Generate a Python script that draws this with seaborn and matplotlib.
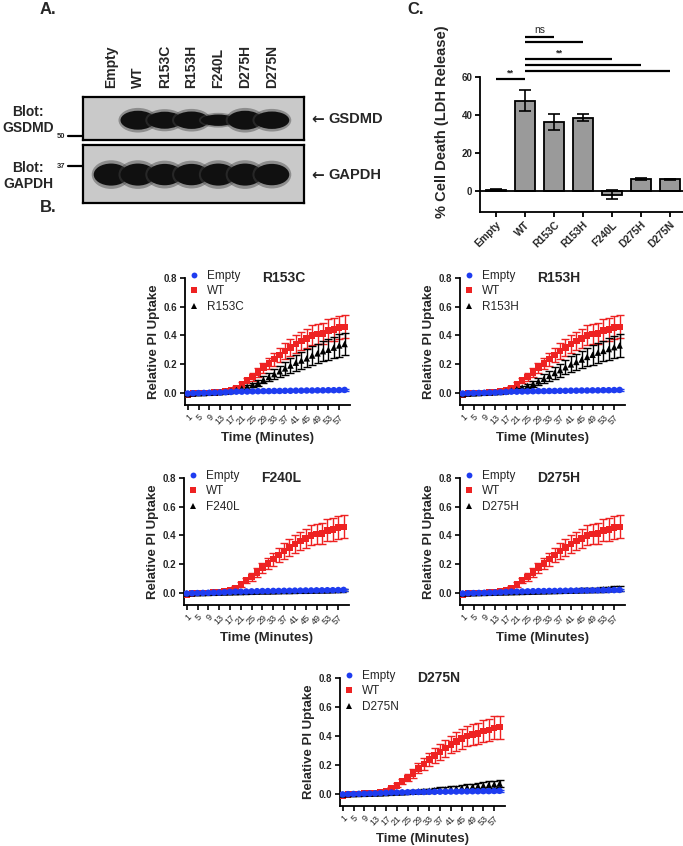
import numpy as np
import pandas as pd
import matplotlib
matplotlib.use("Agg")
import matplotlib.pyplot as plt
from matplotlib.patches import Ellipse
from matplotlib.lines import Line2D
import seaborn as sns

sns.set_theme(style="ticks")
plt.rcParams['font.family'] = ['Liberation Sans', 'DejaVu Sans']

# ---------------- data ----------------
lanes = ['Empty', 'WT', 'R153C', 'R153H', 'F240L', 'D275H', 'D275N']
gsdmd_band = [0.0, 1.0, 0.9, 0.92, 0.6, 1.0, 0.92]
gapdh_band = [1.0, 1.0, 0.97, 0.97, 1.0, 1.0, 0.97]

ldh_mean = [0.8, 47.5, 36.3, 38.5, -2.0, 6.4, 6.1]
ldh_err = [0.4, 5.5, 4.0, 2.0, 2.3, 0.6, 0.4]
sig_pairs = [(0, 1, '**', 59.0), (1, 2, 'ns', 81.0), (1, 3, '', 78.4),
             (1, 4, '**', 69.5), (1, 5, '', 66.3), (1, 6, '', 63.2)]

minutes = list(range(1, 60, 2))
minute_ticks = list(range(1, 58, 4))

empty_mean = [-0.005, -0.003, -0.002, -0.001, 0.0, 0.001, 0.002, 0.004, 0.006, 0.008,
              0.008, 0.009, 0.010, 0.011, 0.012, 0.012, 0.013, 0.013, 0.014, 0.014,
              0.015, 0.015, 0.016, 0.016, 0.017, 0.017, 0.018, 0.018, 0.019, 0.020]
empty_err = [0.003] * 10 + [0.004] * 10 + [0.005] * 10

wt_mean = [-0.012, -0.005, -0.003, -0.002, 0.0, 0.002, 0.005, 0.010, 0.020, 0.035,
           0.058, 0.085, 0.110, 0.140, 0.175, 0.205, 0.235, 0.265, 0.290, 0.315,
           0.340, 0.360, 0.380, 0.400, 0.410, 0.415, 0.435, 0.440, 0.455, 0.460]
wt_err = [0.005, 0.005, 0.005, 0.005, 0.005, 0.005, 0.005, 0.006, 0.008, 0.012,
          0.015, 0.020, 0.025, 0.030, 0.035, 0.040, 0.045, 0.050, 0.055, 0.058,
          0.062, 0.065, 0.068, 0.070, 0.072, 0.074, 0.076, 0.078, 0.080, 0.080]

r153c_mean = [-0.010, -0.005, -0.003, -0.002, 0.0, 0.002, 0.004, 0.007, 0.012, 0.020,
              0.030, 0.042, 0.055, 0.070, 0.090, 0.110, 0.130, 0.150, 0.170, 0.190,
              0.210, 0.225, 0.240, 0.260, 0.275, 0.290, 0.300, 0.315, 0.330, 0.340]
r153c_err = [0.004, 0.004, 0.004, 0.004, 0.004, 0.004, 0.004, 0.005, 0.006, 0.008,
             0.010, 0.013, 0.016, 0.020, 0.025, 0.030, 0.035, 0.040, 0.045, 0.050,
             0.055, 0.058, 0.062, 0.065, 0.068, 0.070, 0.072, 0.075, 0.078, 0.080]

r153h_mean = [-0.010, -0.006, -0.004, -0.002, 0.0, 0.002, 0.004, 0.006, 0.010, 0.016,
              0.025, 0.036, 0.048, 0.062, 0.080, 0.098, 0.118, 0.138, 0.158, 0.178,
              0.198, 0.215, 0.232, 0.250, 0.265, 0.280, 0.292, 0.305, 0.318, 0.330]
r153h_err = [0.004, 0.004, 0.004, 0.004, 0.004, 0.004, 0.004, 0.005, 0.006, 0.008,
             0.010, 0.013, 0.016, 0.020, 0.025, 0.030, 0.035, 0.040, 0.045, 0.050,
             0.055, 0.058, 0.062, 0.065, 0.068, 0.070, 0.072, 0.075, 0.078, 0.080]

f240l_mean = [-0.005, -0.004, -0.003, -0.002, -0.001, 0.0, 0.001, 0.002, 0.003, 0.004,
              0.005, 0.006, 0.007, 0.008, 0.009, 0.009, 0.010, 0.011, 0.012, 0.012,
              0.013, 0.014, 0.014, 0.015, 0.016, 0.017, 0.017, 0.018, 0.019, 0.020]
f240l_err = [0.003] * 10 + [0.005] * 10 + [0.008] * 10

d275h_mean = [-0.006, -0.004, -0.003, -0.002, -0.001, 0.0, 0.001, 0.002, 0.003, 0.004,
              0.005, 0.006, 0.007, 0.008, 0.009, 0.010, 0.011, 0.012, 0.013, 0.014,
              0.015, 0.016, 0.018, 0.019, 0.020, 0.022, 0.024, 0.026, 0.028, 0.030]
d275h_err = [0.003] * 10 + [0.006] * 10 + [0.012, 0.012, 0.013, 0.013, 0.014,
                                            0.014, 0.015, 0.016, 0.017, 0.018]

d275n_mean = [-0.006, -0.004, -0.003, -0.002, -0.001, 0.0, 0.001, 0.002, 0.004, 0.006,
              0.008, 0.010, 0.012, 0.014, 0.016, 0.018, 0.021, 0.024, 0.027, 0.030,
              0.033, 0.036, 0.040, 0.044, 0.048, 0.052, 0.056, 0.060, 0.065, 0.070]
d275n_err = [0.003] * 10 + [0.008, 0.009, 0.010, 0.011, 0.012, 0.013, 0.014, 0.015,
                            0.016, 0.017, 0.018, 0.019, 0.020, 0.021, 0.022, 0.023,
                            0.024, 0.025, 0.026, 0.027]

BLUE = '#1e3cf0'
RED = '#ee2222'
BLACK = '#000000'

W, H = 683, 846
fig = plt.figure(figsize=(W / 100, H / 100), dpi=100)


def add_ax(x0, y0, x1, y1):
    return fig.add_axes([x0 / W, 1 - y1 / H, (x1 - x0) / W, (y1 - y0) / H])


def fx(x):
    return x / W


def fy(y):
    return 1 - y / H


# ---------------- panel letters ----------------
fig.text(fx(40), fy(10), 'A.', fontsize=12, fontweight='bold', va='center')
fig.text(fx(407), fy(10), 'C.', fontsize=12, fontweight='bold', va='center')
fig.text(fx(40), fy(208), 'B.', fontsize=12, fontweight='bold', va='center')

# ---------------- panel A: blot ----------------
def blot(ax, intens, height, yc):
    ax.set_facecolor('#c9c9c9')
    for i, v in enumerate(intens):
        if v <= 0:
            continue
        ax.add_patch(Ellipse((i, yc), 1.45, height * v * 1.3, color='#444444', alpha=0.45, lw=0))
        ax.add_patch(Ellipse((i, yc), 1.3, height * v, color='#101010', lw=0))
    ax.set_xlim(-1.05, 7.2)
    ax.set_ylim(0, 1)
    ax.set_xticks([])
    ax.set_yticks([])
    for s in ax.spines.values():
        s.set_visible(True)
        s.set_linewidth(1.6)
        s.set_color('black')


axb1 = add_ax(83, 97, 304, 140)
blot(axb1, gsdmd_band, 0.44, 0.46)
axb2 = add_ax(83, 145, 304, 203)
blot(axb2, gapdh_band, 0.38, 0.49)
for i, name in enumerate(lanes):
    axb1.text(i, 1 + 9 / 43, name, rotation=90, ha='center', va='bottom',
              fontsize=10, fontweight='bold', transform=axb1.get_xaxis_transform())

fig.text(fx(28), fy(120), 'Blot:\nGSDMD', ha='center', va='center', fontsize=10,
         fontweight='bold', linespacing=1.2)
fig.text(fx(28), fy(176), 'Blot:\nGAPDH', ha='center', va='center', fontsize=10,
         fontweight='bold', linespacing=1.2)
fig.text(fx(65), fy(136), '50', ha='right', va='center', fontsize=5.5, fontweight='bold')
fig.text(fx(65), fy(166), '37', ha='right', va='center', fontsize=5.5, fontweight='bold')
fig.add_artist(Line2D([fx(68), fx(82)], [fy(136), fy(136)], color='black', lw=1.6))
fig.add_artist(Line2D([fx(68), fx(82)], [fy(166), fy(166)], color='black', lw=1.6))
for yy, nm in ((119, 'GSDMD'), (175, 'GAPDH')):
    fig.text(fx(311), fy(yy), '\u2190', ha='left', va='center', fontsize=11,
             fontweight='bold', family=['DejaVu Sans'])
    fig.text(fx(328), fy(yy), nm, ha='left', va='center', fontsize=10.5, fontweight='bold')

# ---------------- panel C: LDH bars ----------------
axc = add_ax(480, 31, 683, 212)
sns.barplot(x=lanes, y=ldh_mean, color='#9a9a9a', edgecolor='black', linewidth=1.3,
            width=0.7, errorbar=None, saturation=1, ax=axc)
axc.errorbar(range(len(lanes)), ldh_mean, yerr=ldh_err, fmt='none', ecolor='black',
             elinewidth=1.2, capsize=4, capthick=1.2, zorder=5)
axc.axhline(0, color='black', lw=1.3, zorder=4)
axc.set_ylim(-11, 84)
axc.set_xlim(-0.55, 6.45)
axc.set_yticks([0, 20, 40, 60])
axc.set_yticklabels(['0', '20', '40', '60'], fontsize=7, fontweight='bold')
axc.set_xticks(range(len(lanes)))
axc.set_xticklabels(lanes, rotation=45, ha='right', rotation_mode='anchor',
                    fontsize=7.5, fontweight='bold')
axc.spines['top'].set_visible(False)
axc.spines['right'].set_visible(False)
axc.spines['left'].set_bounds(-11, 60)
for s in ('left', 'bottom'):
    axc.spines[s].set_linewidth(1.3)
    axc.spines[s].set_color('black')
axc.tick_params(width=1.3, length=3.5, color='black', pad=2)
axc.set_ylabel('% Cell Death (LDH Release)', fontsize=10.5, fontweight='bold', labelpad=9)
for i, j, lab, h in sig_pairs:
    axc.plot([i, j], [h, h], color='black', lw=1.6, clip_on=False, solid_capstyle='butt')
    if lab:
        tx = (i + j) / 2 if lab != '**' or i == 0 else i + 1.2
        axc.text(tx, h + 0.8, lab, ha='center', va='bottom', fontsize=7.5 if lab == 'ns' else 6.5,
                 fontweight='normal' if lab == 'ns' else 'bold', clip_on=False)

# ---------------- panel B: PI uptake ----------------
def line_panel(rect, mut_name, mut_mean, mut_err):
    ax = add_ax(*rect)
    series = [('WT', wt_mean, wt_err, RED),
              (mut_name, mut_mean, mut_err, BLACK),
              ('Empty', empty_mean, empty_err, BLUE)]
    rows = []
    for name, m, e, c in series:
        ax.errorbar(minutes, m, yerr=e, fmt='none', ecolor=c, elinewidth=1.0,
                    capsize=3.2, capthick=1.0, zorder=2)
        for t, v in zip(minutes, m):
            rows.append({'Minutes': t, 'Uptake': v, 'Group': name})
    df = pd.DataFrame(rows)
    sns.scatterplot(data=df, x='Minutes', y='Uptake', hue='Group', style='Group',
                    hue_order=['Empty', 'WT', mut_name], style_order=['Empty', 'WT', mut_name],
                    palette={'Empty': BLUE, 'WT': RED, mut_name: BLACK},
                    markers={'Empty': 'o', 'WT': 's', mut_name: '^'},
                    s=22, linewidth=0, ax=ax, zorder=3)
    sns.move_legend(ax, 'upper left', bbox_to_anchor=(0.02, 1.065), frameon=False,
                    title=None, fontsize=8.5, handletextpad=0.6, labelspacing=0.3,
                    borderaxespad=0, borderpad=0, handlelength=1.0, markerscale=0.9)
    ax.set_xlim(0, 61)
    ax.set_ylim(-0.085, 0.8)
    ax.set_yticks([0, 0.2, 0.4, 0.6, 0.8])
    ax.set_yticklabels(['0.0', '0.2', '0.4', '0.6', '0.8'], fontsize=7, fontweight='bold')
    ax.set_xticks(minute_ticks)
    ax.set_xticklabels([str(t) for t in minute_ticks], rotation=45, ha='right',
                       rotation_mode='anchor', fontsize=6.5)
    for s in ('top', 'right'):
        ax.spines[s].set_visible(False)
    for s in ('left', 'bottom'):
        ax.spines[s].set_linewidth(1.3)
        ax.spines[s].set_color('black')
    ax.tick_params(width=1.2, length=3.5, color='black', pad=2)
    ax.set_xlabel('Time (Minutes)', fontsize=9.5, fontweight='bold', labelpad=4)
    ax.set_ylabel('Relative PI Uptake', fontsize=9.5, fontweight='bold', labelpad=3)
    ax.text(0.47, 1.0, mut_name, transform=ax.transAxes, ha='left', va='center',
            fontsize=10, fontweight='bold')
    return ax


line_panel((185, 278, 350, 405), 'R153C', r153c_mean, r153c_err)
line_panel((460, 278, 625, 405), 'R153H', r153h_mean, r153h_err)
line_panel((184, 478, 349, 605), 'F240L', f240l_mean, f240l_err)
line_panel((460, 478, 625, 605), 'D275H', d275h_mean, d275h_err)
line_panel((340, 678, 505, 806), 'D275N', d275n_mean, d275n_err)

fig.savefig('out.png', dpi=100, facecolor='white')
